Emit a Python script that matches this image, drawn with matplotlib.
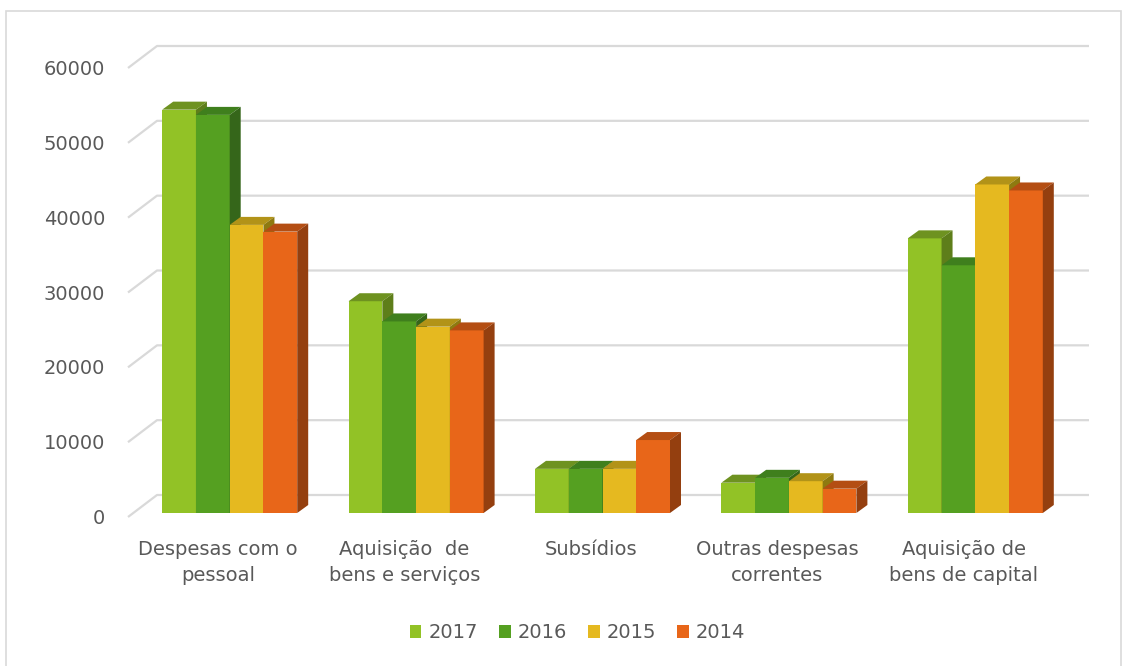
import matplotlib.pyplot as plt
from matplotlib.patches import Polygon, Rectangle, Patch

# Dados
categories = ["Despesas com o\npessoal", "Aquisição  de\nbens e serviços", "Subsídios",
              "Outras despesas\ncorrentes", "Aquisição de\nbens de capital"]
years = ["2017", "2016", "2015", "2014"]
v2017 = [53900, 28300, 5900, 4050, 36700]
v2016 = [53200, 25600, 5900, 4700, 33100]
v2015 = [38500, 24900, 5900, 4250, 43900]
v2014 = [37600, 24400, 9750, 3250, 43100]
series = [v2017, v2016, v2015, v2014]
yticks = [0, 10000, 20000, 30000, 40000, 50000, 60000]

# cores: face frontal, topo, lado
front = ["#92C226", "#55A021", "#E5B920", "#E86619"]
top = ["#6E9220", "#3F7F1D", "#B29318", "#B44E13"]
side = ["#5E7E1A", "#35661A", "#8E7A10", "#943F0F"]
grid_col = "#D9D9D9"
txt_col = "#595959"

W, H = 1129, 666
fig = plt.figure(figsize=(W / 100, H / 100), dpi=100)
ax = fig.add_axes([0, 0, 1, 1])
ax.axis("off")

# escala: x=0 no pixel 128, x=5 no pixel 1060; y=0 no pixel 517, 60000 no pixel 68
x0px, x5px = 128, 1060
y0px, y60px = 517, 68
sx = (x5px - x0px) / 5
sy = (y0px - y60px) / 60000
ax.set_xlim(-x0px / sx, (W - x0px) / sx)
ax.set_ylim(-(H - y0px) / sy, y0px / sy)

# parede do fundo (efeito 3D)
bdx, bdy = 29 / sx, 22 / sy
for v in yticks:
    ax.plot([0, bdx, len(categories) + bdx], [v, v + bdy, v + bdy],
            color=grid_col, lw=1.6, zorder=1, solid_capstyle="butt")
    ax.text(-23 / sx, v - 1.5 / sy, f"{v}", ha="right", va="center", fontsize=14, color=txt_col)

# barras 3D
bw = 33.75 / sx
shift_x, base = 8.5 / sx, 4 / sy
ddx, ddy = 11 / sx, 8 / sy
for i in range(len(categories)):
    cx = i + 0.5 + shift_x
    for k, vals in enumerate(series):
        x = cx + (k - 2) * bw
        h = vals[i]
        z = 2 + i + k * 0.01
        ax.bar(x, h, width=bw, bottom=base, align="edge", color=front[k], zorder=z)
        ax.add_patch(Polygon([(x, base + h), (x + ddx, base + h + ddy),
                              (x + bw + ddx, base + h + ddy), (x + bw, base + h)],
                             closed=True, facecolor=top[k], edgecolor="none", zorder=z))
        ax.add_patch(Polygon([(x + bw, base), (x + bw + ddx, base + ddy),
                              (x + bw + ddx, base + h + ddy), (x + bw, base + h)],
                             closed=True, facecolor=side[k], edgecolor="none", zorder=z))
    ax.text(i + 0.5 - 3 / sx, -(540 - y0px) / sy, categories[i], ha="center", va="top",
            fontsize=14, color=txt_col, linespacing=1.45)

# moldura
fig.patches.append(Rectangle((6 / W, -0.01), (1121 - 6) / W, 1.01 - 11 / H,
                             transform=fig.transFigure, fill=False,
                             edgecolor=grid_col, lw=1.2))

handles = [Patch(facecolor=c, edgecolor="none") for c in front]
fig.legend(handles, years, loc="center", bbox_to_anchor=(0.5 + 13 / W, 1 - 633 / H), ncol=4,
           frameon=False, fontsize=14, labelcolor=txt_col, handlelength=0.6,
           handleheight=0.6, handletextpad=0.35, columnspacing=1.1)

fig.savefig("out.png", dpi=100)
